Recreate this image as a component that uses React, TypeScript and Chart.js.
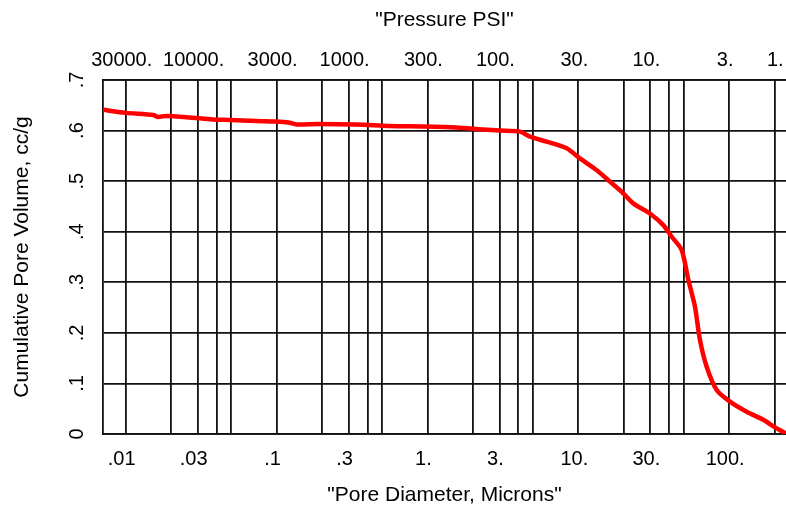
import { useEffect, useRef } from "react";
import { Chart, registerables } from "chart.js";

Chart.register(...registerables);

// Pore diameter (microns) and cumulative pore volume (cc/g)
const poreDiameters = [
  0.00707, 0.01, 0.0152, 0.0164, 0.0186, 0.0266, 0.0379, 0.0489, 0.0736, 0.0998,
  0.12, 0.136, 0.184, 0.339, 0.563, 0.936, 1.56, 2.34, 3.02, 4.1,
  4.78, 6.16, 8.37, 10.25, 13.2, 16.2, 19.85, 23.1, 29.8, 36.6,
  41.6, 48.4, 53.6, 59.3, 64.0, 70.9, 82.6, 101.2, 130.6, 168.3,
  206.5, 238,
];
const cumulativeVolumes = [
  0.641, 0.635, 0.631, 0.627, 0.629, 0.626, 0.622, 0.621, 0.619, 0.618,
  0.616, 0.612, 0.613, 0.612, 0.609, 0.608, 0.606, 0.602, 0.6, 0.598,
  0.588, 0.578, 0.565, 0.545, 0.522, 0.499, 0.476, 0.456, 0.436, 0.413,
  0.39, 0.364, 0.305, 0.252, 0.186, 0.133, 0.087, 0.064, 0.044, 0.028,
  0.011, 0.001,
];

// Axis range and ticks
const diameterMin = 0.00707;
const diameterMax = 238;
const gridDiameters = [
  0.01, 0.02, 0.03, 0.04, 0.05, 0.1, 0.2, 0.3, 0.4, 0.5, 1, 2, 3, 4, 5,
  10, 20, 30, 40, 50, 100, 200,
];
const diameterTickValues = [0.01, 0.03, 0.1, 0.3, 1, 3, 10, 30, 100];
const diameterTickLabels = [".01", ".03", ".1", ".3", "1.", "3.", "10.", "30.", "100."];
const pressureTickPositions = [0.01, 0.03, 0.1, 0.3, 1, 3, 10, 30, 100, 215];
const pressureTickLabels = [
  "30000.", "10000.", "3000.", "1000.", "300.", "100.", "30.", "10.", "3.", "1.",
];
const volumeTickLabels = ["0", ".1", ".2", ".3", ".4", ".5", ".6", ".7"];

const FONT = "'Liberation Sans', Arial, Helvetica, sans-serif";
const LINE = "#111111";
const LW = 1.8;

const noPadding = (scale: any) => {
  scale.paddingLeft = 0;
  scale.paddingRight = 0;
  scale.paddingTop = 0;
  scale.paddingBottom = 0;
};

export default function App() {
  const ref = useRef<HTMLCanvasElement>(null);

  useEffect(() => {
    document.body.style.margin = "0";
    document.body.style.overflow = "hidden";
    const canvas = ref.current;
    if (!canvas) return;

    const chart = new Chart(canvas, {
      type: "line",
      data: {
        datasets: [
          {
            data: poreDiameters.map((d, i) => ({ x: d, y: cumulativeVolumes[i] })),
            borderColor: "#ff0000",
            borderWidth: 4.5,
            pointRadius: 0,
            tension: 0.25,
            fill: false,
            xAxisID: "x",
            yAxisID: "y",
          },
        ],
      },
      options: {
        responsive: false,
        animation: false,
        devicePixelRatio: 1,
        layout: { padding: 0 },
        plugins: {
          legend: { display: false },
          tooltip: { enabled: false },
        },
        scales: {
          x: {
            type: "logarithmic",
            position: "bottom",
            min: diameterMin,
            max: diameterMax,
            afterBuildTicks: (scale: any) => {
              scale.ticks = gridDiameters.map((v) => ({ value: v }));
            },
            afterFit: (scale: any) => {
              scale.height = 76;
              noPadding(scale);
            },
            grid: { display: true, color: LINE, lineWidth: LW, drawTicks: false },
            border: { display: true, color: LINE, width: LW },
            ticks: {
              autoSkip: false,
              maxRotation: 0,
              minRotation: 0,
              padding: 13,
              labelOffset: -4,
              color: "#000",
              font: { family: FONT, size: 20 },
              callback: (value: any) => {
                const i = diameterTickValues.indexOf(Number(value));
                return i >= 0 ? diameterTickLabels[i] : "";
              },
            },
            title: {
              display: true,
              text: '"Pore Diameter, Microns"',
              color: "#000",
              font: { family: FONT, size: 21 },
              padding: { top: 0, bottom: 2 },
            },
          },
          x2: {
            type: "logarithmic",
            position: "top",
            min: diameterMin,
            max: diameterMax,
            afterBuildTicks: (scale: any) => {
              scale.ticks = pressureTickPositions.map((v) => ({ value: v }));
            },
            afterFit: (scale: any) => {
              scale.height = 80;
              noPadding(scale);
            },
            grid: { display: false, drawTicks: false },
            border: { display: true, color: LINE, width: LW },
            ticks: {
              autoSkip: false,
              maxRotation: 0,
              minRotation: 0,
              padding: 8,
              labelOffset: -4,
              color: "#000",
              font: { family: FONT, size: 20 },
              callback: (_value: any, index: number) => pressureTickLabels[index] ?? "",
            },
            title: {
              display: true,
              text: '"Pressure PSI"',
              color: "#000",
              font: { family: FONT, size: 21 },
              padding: { top: 8, bottom: 0 },
            },
          },
          y: {
            type: "linear",
            position: "left",
            min: 0,
            max: 0.7,
            afterFit: (scale: any) => {
              scale.width = 103;
              noPadding(scale);
            },
            grid: { display: true, color: LINE, lineWidth: LW, drawTicks: false },
            border: { display: true, color: LINE, width: LW },
            ticks: {
              stepSize: 0.1,
              minRotation: 90,
              maxRotation: 90,
              crossAlign: "center",
              padding: 17,
              color: "#000",
              font: { family: FONT, size: 20 },
              callback: (_value: any, index: number) => volumeTickLabels[index] ?? "",
            },
            title: {
              display: true,
              text: "Cumulative Pore Volume, cc/g",
              color: "#000",
              font: { family: FONT, size: 21 },
              padding: { top: 10, bottom: 0 },
            },
          },
        },
      } as any,
    });

    return () => chart.destroy();
  }, []);

  return (
    <canvas
      ref={ref}
      width={786}
      height={510}
      style={{ display: "block", width: 786, height: 510 }}
    />
  );
}
